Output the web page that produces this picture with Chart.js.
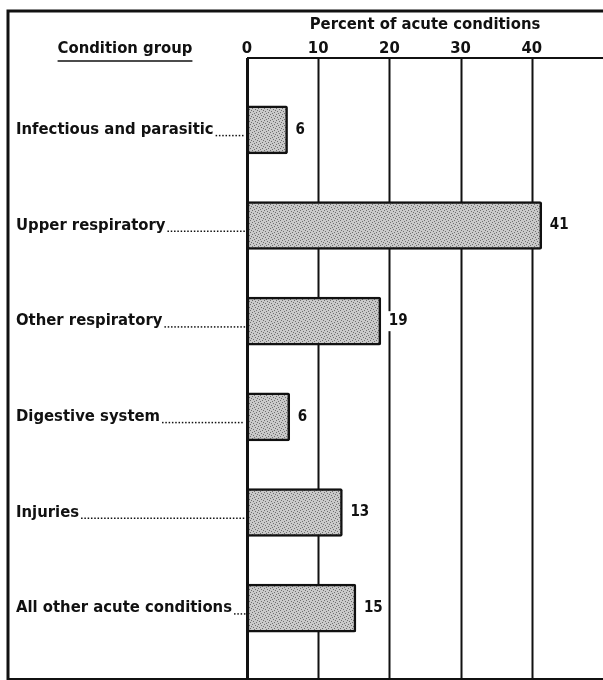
<!DOCTYPE html>
<html>
<head>
<meta charset="utf-8">
<script src="https://cdn.jsdelivr.net/npm/chart.js@4.4.0/dist/chart.umd.min.js"></script>
<style>
  html, body { margin: 0; padding: 0; background: #fff; }
  #wrap { width: 603px; height: 680px; }
</style>
</head>
<body>
<div id="wrap"><canvas id="chart" width="603" height="680"></canvas></div>
<script>
// Datos del grafico
const categorias = ['Infectious and parasitic', 'Upper respiratory', 'Other respiratory', 'Digestive system', 'Injuries', 'All other acute conditions'];
const porcentajes = [5.7, 41.4, 18.8, 6.0, 13.4, 15.3];
const etiquetasValor = ['6', '41', '19', '6', '13', '15'];
const ticksX = [0, 10, 20, 30, 40];

const FUENTE = '"DejaVu Sans Condensed", "DejaVu Sans", sans-serif';
const TINTA = '#111';

// Trama punteada gris para las barras
function crearTrama() {
    const c = document.createElement('canvas');
    c.width = 6; c.height = 6;
    const g = c.getContext('2d');
    g.fillStyle = '#c9c9c9';
    g.fillRect(0, 0, 6, 6);
    g.fillStyle = '#6e6e6e';
    const puntos = [[0,0],[3,1],[1,3],[4,4],[2,5],[5,2]];
    puntos.forEach(p => g.fillRect(p[0], p[1], 1, 1));
    return g.createPattern(c, 'repeat');
}

const marcoPlugin = {
    id: 'marco',
    beforeDatasetsDraw(chart) {
        const ctx = chart.ctx;
        const x = chart.scales.x;
        const y = chart.scales.y;
        const area = chart.chartArea;
        const topEje = 58;
        ctx.save();
        ctx.strokeStyle = TINTA;

        // borde exterior
        ctx.lineWidth = 3;
        ctx.beginPath();
        ctx.moveTo(8, 680);
        ctx.lineTo(8, 11);
        ctx.lineTo(603, 11);
        ctx.stroke();
        ctx.lineWidth = 2;
        ctx.beginPath();
        ctx.moveTo(8, 679);
        ctx.lineTo(603, 679);
        ctx.stroke();

        // lineas verticales de la escala
        ticksX.forEach(v => {
            const px = Math.round(x.getPixelForValue(v)) + 0.5;
            ctx.lineWidth = v === 0 ? 3 : 2;
            ctx.beginPath();
            ctx.moveTo(px, topEje);
            ctx.lineTo(px, 680);
            ctx.stroke();
        });
        // linea superior
        ctx.lineWidth = 2;
        ctx.beginPath();
        ctx.moveTo(x.getPixelForValue(0), topEje);
        ctx.lineTo(603, topEje);
        ctx.stroke();

        // textos de cabecera
        ctx.fillStyle = TINTA;
        ctx.textBaseline = 'middle';
        ctx.font = 'bold 16.5px ' + FUENTE;
        ctx.textAlign = 'center';
        ctx.fillText('Percent of acute conditions', 425, 25);
        ticksX.forEach(v => {
            ctx.fillText(String(v), x.getPixelForValue(v), 49);
        });
        ctx.fillText('Condition group', 125, 49);
        const anchoTitulo = ctx.measureText('Condition group').width;
        ctx.lineWidth = 1.5;
        ctx.beginPath();
        ctx.moveTo(125 - anchoTitulo / 2, 61);
        ctx.lineTo(125 + anchoTitulo / 2, 61);
        ctx.stroke();

        // etiquetas de categoria con puntos guia
        ctx.textAlign = 'left';
        categorias.forEach((cat, i) => {
            const py = y.getPixelForValue(i);
            ctx.fillText(cat, 16, py);
            const fin = 16 + ctx.measureText(cat).width + 2;
            for (let dx = fin; dx < area.left - 3; dx += 3.3) {
                ctx.fillRect(dx, py + 5, 1.5, 1.5);
            }
        });
        ctx.restore();
    },
    afterDatasetsDraw(chart) {
        const ctx = chart.ctx;
        const meta = chart.getDatasetMeta(0);
        ctx.save();
        ctx.font = 'bold 15px ' + FUENTE;
        ctx.textBaseline = 'middle';
        ctx.textAlign = 'left';
        meta.data.forEach((bar, i) => {
            const txt = etiquetasValor[i];
            const w = ctx.measureText(txt).width;
            const px = bar.x + 8;
            ctx.fillStyle = '#fff';
            ctx.fillRect(px - 3, bar.y - 10, w + 6, 20);
            ctx.fillStyle = TINTA;
            ctx.fillText(txt, px, bar.y);
        });
        ctx.restore();
    }
};

const ctx = document.getElementById('chart').getContext('2d');
new Chart(ctx, {
    type: 'bar',
    data: {
        labels: categorias,
        datasets: [{
            data: porcentajes,
            backgroundColor: crearTrama(),
            borderColor: TINTA,
            borderWidth: 2.5,
            borderSkipped: false,
            borderRadius: 2,
            barThickness: 48
        }]
    },
    options: {
        indexAxis: 'y',
        responsive: false,
        animation: false,
        layout: { padding: { left: 247, right: 0, top: 82, bottom: 24 } },
        scales: {
            x: { display: false, min: 0, max: 50 },
            y: { display: false }
        },
        plugins: {
            legend: { display: false },
            tooltip: { enabled: false }
        }
    },
    plugins: [marcoPlugin]
});
</script>
</body>
</html>
